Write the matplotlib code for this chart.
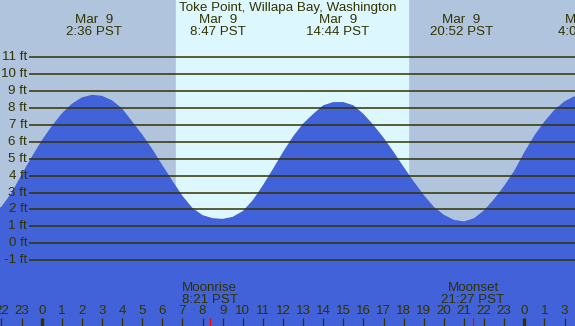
import matplotlib
matplotlib.use("Agg")
import matplotlib.pyplot as plt

# Toke Point, Willapa Bay - tide levels (ft), every half hour
# hours counted from Mar 9 00:00 PST
tide_hours = [-2.5, -2.0, -1.5, -1.0, -0.5, 0.0, 0.5, 1.0, 1.5, 2.0,
              2.5, 3.0, 3.5, 4.0, 4.5, 5.0, 5.5, 6.0, 6.5, 7.0,
              7.5, 8.0, 8.5, 9.0, 9.5, 10.0, 10.5, 11.0, 11.5, 12.0,
              12.5, 13.0, 13.5, 14.0, 14.5, 15.0, 15.5, 16.0, 16.5, 17.0,
              17.5, 18.0, 18.5, 19.0, 19.5, 20.0, 20.5, 21.0, 21.5, 22.0,
              22.5, 23.0, 23.5, 24.0, 24.5, 25.0, 25.5, 26.0, 26.5, 27.0]
tide_ft = [1.70, 2.17, 2.98, 4.06, 5.10, 6.08, 6.93, 7.68, 8.25, 8.63,
           8.78, 8.72, 8.45, 7.97, 7.20, 6.43, 5.57, 4.62, 3.69, 2.80,
           2.08, 1.66, 1.48, 1.44, 1.56, 1.90, 2.55, 3.43, 4.40, 5.40,
           6.32, 7.08, 7.65, 8.16, 8.35, 8.35, 8.16, 7.65, 6.99, 6.24,
           5.40, 4.51, 3.65, 2.85, 2.15, 1.68, 1.38, 1.29, 1.48, 1.95,
           2.62, 3.40, 4.29, 5.39, 6.38, 7.20, 7.90, 8.40, 8.70, 8.80]

# high / low tide labels along the top
event_hours = [2.60, 8.78, 14.73, 20.87, 27.08]
event_dates = ["Mar  9", "Mar  9", "Mar  9", "Mar  9", "Mar 10"]
event_times = ["2:36 PST", "8:47 PST", "14:44 PST", "20:52 PST", "4:05 PDT"]

sunrise, sunset = 6.68, 18.23
moon_hours = [8.35, 21.45]
moon_names = ["Moonrise", "Moonset"]
moon_times = ["8:21 PST", "21:27 PST"]

grid_ft = list(range(-1, 12))
hour_ticks = list(range(-2, 27))
hour_labels = ["22", "23"] + [str(h) for h in range(24)] + ["0", "1", "3"]
midnights = [0, 24]

TXT = "#333300"
NIGHT = "#b0c4de"
DAY = "#ddf7fe"
WATER = "#4162d8"
FS = 9.6

W, H = 575, 326
x0, px_hour = 41.7, 20.11      # pixel of 00:00, pixels per hour
y0, px_ft = 243.2, 16.9        # pixel of 0 ft, pixels per foot

plt.rcParams['font.family'] = ['Liberation Sans', 'DejaVu Sans']

fig = plt.figure(figsize=(W / 100, H / 100), dpi=100)
ax = fig.add_axes([0, 0, 1, 1])
ax.set_xlim(-x0 / px_hour, (W - x0) / px_hour)
ax.set_ylim(-(H - y0) / px_ft, y0 / px_ft)
ax.axis('off')
fig.patch.set_facecolor(NIGHT)

xt = ax.get_xaxis_transform()


def fy(ypix):
    # pixel row -> axes fraction
    return 1 - ypix / H


ax.axvspan(sunrise, sunset, color=DAY, zorder=0)
ax.fill_between(tide_hours, tide_ft, -20, color=WATER, lw=0, zorder=1)

xl = ax.get_xlim()
ax.hlines(grid_ft, -0.62, xl[1] + 1, color=TXT, lw=1.1, zorder=2)
for v in grid_ft:
    ax.text(-0.72, v, f"{v} ft", ha='right', va='center', fontsize=FS,
            color=TXT, zorder=3)

ax.text(0.5, fy(7.5), "Toke Point, Willapa Bay, Washington", transform=ax.transAxes,
        ha='center', va='center', fontsize=FS, color=TXT)
for h, d, t in zip(event_hours, event_dates, event_times):
    ax.text(h, fy(20), d, transform=xt, ha='center', va='center', fontsize=FS, color=TXT)
    ax.text(h, fy(32), t, transform=xt, ha='center', va='center', fontsize=FS, color=TXT)

for h, n, t in zip(moon_hours, moon_names, moon_times):
    ax.text(h, fy(288), n, transform=xt, ha='center', va='center', fontsize=FS, color=TXT)
    ax.text(h, fy(300), t, transform=xt, ha='center', va='center', fontsize=FS, color=TXT)

for h, lab in zip(hour_ticks, hour_labels):
    ax.text(h, fy(311.5), lab, transform=xt, ha='center', va='center', fontsize=FS, color=TXT)
ax.vlines(hour_ticks, fy(326), fy(318), transform=xt, color=TXT, lw=0.9, zorder=3)
ax.vlines(midnights, fy(326), fy(318), transform=xt, color=TXT, lw=2.4, zorder=3)
ax.vlines(moon_hours, fy(326), fy(318), transform=xt, color='red', lw=0.9, zorder=4)

fig.savefig("out.png", dpi=100, facecolor=NIGHT)
